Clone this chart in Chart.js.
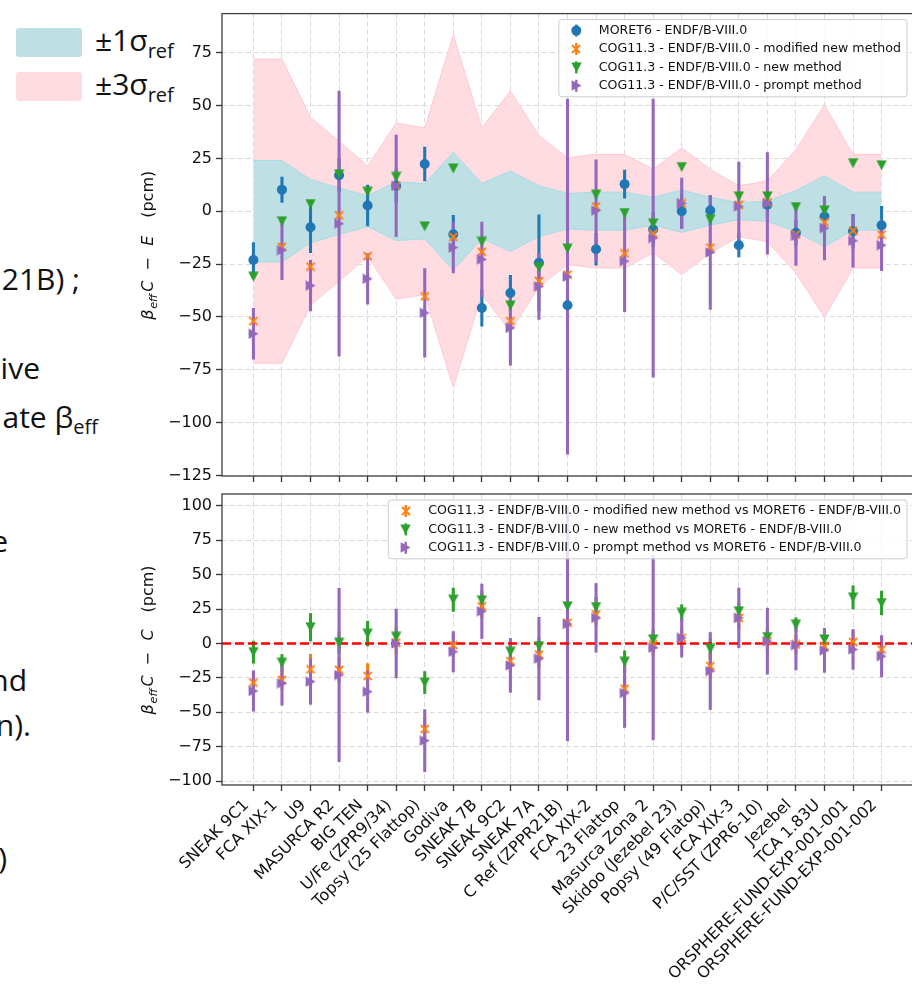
<!DOCTYPE html>
<html>
<head>
<meta charset="utf-8">
<script src="https://cdn.jsdelivr.net/npm/chart.js@4.4.1/dist/chart.umd.min.js"></script>
<style>
html,body{margin:0;padding:0;background:#fff;}
body{width:912px;height:990px;overflow:hidden;position:relative;font-family:"Open Sans","Noto Sans",sans-serif;color:#111;}
canvas{position:absolute;left:0;}
#c1{top:0;}
#c2{top:480px;}
.frag{position:absolute;white-space:nowrap;font-size:30px;line-height:30px;}
.frag sub{font-size:20px;vertical-align:-6px;line-height:0;}
.sw{position:absolute;left:16px;width:66px;height:29px;border-radius:3px;}
.lg{position:absolute;left:95px;white-space:nowrap;font-size:30px;line-height:30px;}
.lg sub{font-size:20px;vertical-align:-7px;line-height:0;}
</style>
</head>
<body>
<div class="sw" style="top:28px;background:#BEDFE3;"></div>
<div class="sw" style="top:72px;background:#FFDBE2;"></div>
<div class="lg" style="top:25px;">±1σ<sub>ref</sub></div>
<div class="lg" style="top:69px;">±3σ<sub>ref</sub></div>

<div class="frag" style="right:832px;top:264px;">21B) ;</div>
<div class="frag" style="right:872px;top:353px;">ive</div>
<div class="frag" style="right:814px;top:402px;">ate β<sub>eff</sub></div>
<div class="frag" style="right:904px;top:526px;">e</div>
<div class="frag" style="right:885px;top:665px;">nd</div>
<div class="frag" style="right:881px;top:710px;">n).</div>
<div class="frag" style="right:905px;top:843px;">)</div>

<canvas id="c1" width="920" height="490"></canvas>
<canvas id="c2" width="920" height="510"></canvas>

<script>
// ---------------- DATA ----------------
const categories = ['SNEAK 9C1','FCA XIX-1','U9','MASURCA R2','BIG TEN','U/Fe (ZPR9/34)','Topsy (25 Flattop)','Godiva','SNEAK 7B','SNEAK 9C2','SNEAK 7A','C Ref (ZPPR21B)','FCA XIX-2','23 Flattop','Masurca Zona 2','Skidoo (Jezebel 23)','Popsy (49 Flatop)','FCA XIX-3','P/C/SST (ZPR6-10)','Jezebel','TCA 1.83U','ORSPHERE-FUND-EXP-001-001','ORSPHERE-FUND-EXP-001-002'];

// reference experimental uncertainty bands (pcm)
const sigma1Ref = [24, 24, 15, 11, 7.3, 13.9, 13.1, 27.9, 13.1, 19, 12, 8.4, 9, 9, 6.6, 10, 6.6, 4, 4.8, 9.7, 16.8, 9, 9];
const sigma3Ref = [72, 72, 44.4, 33.1, 21.4, 41.7, 39.4, 83.6, 39.4, 57, 35.8, 25.3, 26.9, 26.9, 19.8, 30, 19.8, 12, 14.4, 29.2, 50.3, 26.9, 26.9];

// top panel: C - E (pcm)
const moretCE       = [-23.1, 10.2, -7.6, 17, 2.7, 12, 22.3, -10.9, -45.8, -38.7, -24.4, -44.5, -18, 12.8, -8.7, 0, 0.3, -16.1, 3.1, -10.2, -2.5, -9.5, -6.7];
const moretCEErr    = [8.3, 6, 12, 8, 9.7, 8, 8, 9, 8.6, 8.3, 22.7, 8, 7.5, 6.6, 8, 8, 6.7, 5.5, 6, 6, 9.4, 8, 9];
const cogModCE      = [-52, -16.9, -26.2, -2, -21.2, 12, -40.3, -12.2, -19.2, -52, -33, -30, 2.2, -20, -10.6, 3.7, -17.2, 3, 4.2, -11, -5.2, -9.2, -11.1];
const cogNewCE      = [-31, -4.8, 3.4, 17.5, 9.2, 16.2, -7.2, 20.2, -14.5, -44.7, -26.6, -17.7, 7.8, -0.9, -5.9, 20.9, -3.9, 7, 7, 1.9, 0.3, 22.7, 21.7];
const cogPromptCE   = [-58, -18.4, -35.2, -5.9, -32, 12, -48.1, -17.2, -22.8, -55.2, -35.6, -31, 0.3, -23.6, -12.7, 3.7, -19.5, 2.3, 3.7, -11.7, -8, -14, -16.1];
const cogPromptCEErr= [12, 14, 12, 62.7, 12, 24, 21, 12, 17.6, 17.6, 15.6, 84, 24, 24, 65.8, 12, 27, 21, 24, 14, 15, 12.5, 12];

// bottom panel: C - C (pcm), COG vs MORET6
const cogModCC      = [-28.4, -26.5, -18.8, -19.3, -23.6, 0.5, -62.2, -1.2, 27, -12.8, -8, 15, 21, -32.8, -0.7, 4.1, -16.4, 18.6, 1.7, -0.7, -1.9, 1, -4.3];
const cogModCCErr   = [8, 7, 11, 9, 9, 8, 9, 8, 9, 8, 10, 9, 8, 9, 8, 7, 9, 8, 8, 7, 8, 8, 8];
const cogNewCC      = [-6.3, -14, 11.8, 0.5, 7.2, 4.8, -28.4, 31.8, 31.3, -6, -1.9, 27, 26.5, -13.3, 2.9, 22.2, -3.9, 23.4, 4.6, 13.7, 2.9, 33.5, 29.4];
const cogNewCCErr   = [8, 6, 10, 8, 9, 7, 8, 8.5, 7, 7, 6, 8, 7, 8, 7, 6, 7, 6, 6, 5, 6, 8.4, 8.6];
const cogPromptCC   = [-34.5, -28.9, -27.7, -22.9, -35, 0, -70.6, -6, 23.4, -15.9, -11, 14.2, 18.6, -36, -3.1, 4.1, -20, 18.6, 1.7, -1.2, -5, -4.3, -9.2];
const cogPromptCCErr= [14.7, 16, 16.5, 63, 15, 25, 22.6, 14.7, 19.8, 19.6, 30, 85, 25, 25, 67, 14, 28, 21.7, 24, 18, 16, 14.5, 15];

const topSeriesNames = ['MORET6 - ENDF/B-VIII.0','COG11.3 - ENDF/B-VIII.0 - modified new method','COG11.3 - ENDF/B-VIII.0 - new method','COG11.3 - ENDF/B-VIII.0 - prompt method'];
const botSeriesNames = ['COG11.3 - ENDF/B-VIII.0 - modified new method vs MORET6 - ENDF/B-VIII.0','COG11.3 - ENDF/B-VIII.0 - new method vs MORET6 - ENDF/B-VIII.0','COG11.3 - ENDF/B-VIII.0 - prompt method vs MORET6 - ENDF/B-VIII.0'];

const topYTicks = [-125, -100, -75, -50, -25, 0, 25, 50, 75];
const botYTicks = [-100, -75, -50, -25, 0, 25, 50, 75, 100];
const refLineValue = 0;

// ---------------- STYLE ----------------
const X_MIN = -1.1, X_MAX = 23.1;
const TOP_Y = [-125.3, 93.5], BOT_Y = [-102.8, 108.6];
const BLUE = '#1f77b4', ORANGE = '#ff7f0e', GREEN = '#2ca02c', PURPLE = '#9467bd';
const PINK = '#FFDBE2', PINK_EDGE = '#FFCAD4', TEAL = '#BEDFE3', TEAL_EDGE = '#A6DCE4';
const FONT = '"DejaVu Sans"';

function mk(w, h, draw) { const c = document.createElement('canvas'); c.width = w; c.height = h; draw(c.getContext('2d')); return c; }
const triDown = mk(11, 11, g => { g.fillStyle = GREEN; g.beginPath(); g.moveTo(0.3, 0.6); g.lineTo(10.7, 0.6); g.lineTo(5.5, 10.6); g.closePath(); g.fill(); });
const triRight = mk(11, 11, g => { g.fillStyle = PURPLE; g.beginPath(); g.moveTo(0.6, 0.3); g.lineTo(10.6, 5.5); g.lineTo(0.6, 10.7); g.closePath(); g.fill(); });
const xMark = mk(10, 10, g => { g.strokeStyle = ORANGE; g.lineWidth = 1.8; g.beginPath(); g.moveTo(1, 1); g.lineTo(9, 9); g.moveTo(9, 1); g.lineTo(1, 9); g.stroke(); });

const pts = (vals, sign = 1) => vals.map((v, i) => ({ x: i, y: sign * v }));
const bars = (vals, errs) => vals.map((v, i) => ({ x: i, y: [v - errs[i], v + errs[i]] }));
const fmt = v => v < 0 ? '\u2212' + Math.abs(v) : String(v);

function markerDS(data, style, color, order) {
  const ds = { type: 'scatter', data, order, pointBorderWidth: 0, pointBackgroundColor: color, pointBorderColor: color };
  if (style === 'circle') { ds.pointStyle = 'circle'; ds.pointRadius = 5; }
  else { ds.pointStyle = style; ds.pointRadius = 6; }
  return ds;
}
function errDS(data, color, order) {
  return { type: 'bar', data, backgroundColor: color, borderWidth: 0, barThickness: 2.4, grouped: false, order };
}
function bandDS(vals, sign, fill, edge, order, doFill) {
  return { type: 'line', data: pts(vals, sign), borderColor: edge, borderWidth: 1, pointRadius: 0, tension: 0,
           fill: doFill ? '+1' : false, backgroundColor: fill, order };
}

function gridOpts() {
  return { offset: false, color: '#d9d9d9', lineWidth: 1, drawTicks: true, tickLength: 6, tickColor: '#333', tickWidth: 1.3, tickBorderDash: [] };
}
function xScale(showLabels, height) {
  return {
    type: 'linear', min: X_MIN, max: X_MAX, offset: false, beginAtZero: false,
    afterBuildTicks: ax => { ax.ticks = categories.map((_, i) => ({ value: i })); },
    afterFit: ax => { ax.height = height; },
    grid: gridOpts(),
    border: { display: false, dash: [5, 3] },
    ticks: { display: showLabels, autoSkip: false, maxRotation: 45, minRotation: 45, padding: 5, labelOffset: -7,
             color: '#111', font: { family: 'DejaVu Sans', size: 16 }, callback: v => categories[v] }
  };
}
function yScale(range, ticks) {
  return {
    type: 'linear', min: range[0], max: range[1], offset: false, beginAtZero: false,
    afterBuildTicks: ax => { ax.ticks = ticks.map(v => ({ value: v })); },
    afterFit: ax => { ax.width = 222; },
    grid: gridOpts(),
    border: { display: false, dash: [5, 3] },
    ticks: { padding: 4, color: '#111', font: { family: 'DejaVu Sans', size: 16 }, callback: v => fmt(v) }
  };
}

function roundRectPath(ctx, x, y, w, h, r) {
  ctx.beginPath(); ctx.moveTo(x + r, y); ctx.lineTo(x + w - r, y); ctx.arcTo(x + w, y, x + w, y + r, r);
  ctx.lineTo(x + w, y + h - r); ctx.arcTo(x + w, y + h, x + w - r, y + h, r); ctx.lineTo(x + r, y + h);
  ctx.arcTo(x, y + h, x, y + h - r, r); ctx.lineTo(x, y + r); ctx.arcTo(x, y, x + r, y, r); ctx.closePath();
}

function makePlugins(legendItems, secondLetter) {
  return [{
    id: 'frameTitleLegend',
    afterDatasetsDraw(chart) {
      const ctx = chart.ctx, a = chart.chartArea;
      ctx.save(); ctx.strokeStyle = '#3d3d3d'; ctx.lineWidth = 1.3;
      ctx.strokeRect(a.left, a.top, a.right - a.left, a.bottom - a.top); ctx.restore();
    },
    afterDraw(chart) {
      const ctx = chart.ctx, a = chart.chartArea;
      // y title
      const cy = (a.top + a.bottom) / 2;
      ctx.save(); ctx.translate(153, cy); ctx.rotate(-Math.PI / 2);
      ctx.fillStyle = '#111'; ctx.textBaseline = 'alphabetic'; ctx.textAlign = 'left';
      const it = 'italic 16px ' + FONT, up = '16px ' + FONT;
      const s = -75;
      [['β', it, 0, 0], ['eff', 'italic 11.2px ' + FONT, 11, 3.5], ['C', it, 28, 0], ['\u2212', up, 49, 0],
       [secondLetter, it, 74, 0], ['(pcm)', up, 102, 0]].forEach(([t, f, x, dy]) => { ctx.font = f; ctx.fillText(t, s + x, dy); });
      ctx.restore();
      // legend
      ctx.save();
      ctx.font = '12.6px ' + FONT;
      const tw = Math.max(...legendItems.map(o => ctx.measureText(o.label).width));
      const w = 5 + 25 + 10 + tw + 6, rowH = 18.4, h = 22 + (legendItems.length - 1) * rowH;
      const right = a.right - 6, left = right - w, top = a.top + 6;
      roundRectPath(ctx, left, top, w, h, 3);
      ctx.fillStyle = 'rgba(255,255,255,0.8)'; ctx.fill(); ctx.strokeStyle = '#cccccc'; ctx.lineWidth = 1; ctx.stroke();
      legendItems.forEach((o, i) => {
        const y = top + 11 + i * rowH, mx = left + 17.5;
        ctx.strokeStyle = o.color; ctx.lineWidth = 2.4; ctx.beginPath(); ctx.moveTo(mx, y - 6); ctx.lineTo(mx, y + 6); ctx.stroke();
        if (o.img) ctx.drawImage(o.img, Math.round(mx - o.img.width / 2), Math.round(y - o.img.height / 2));
        else { ctx.fillStyle = o.color; ctx.beginPath(); ctx.arc(mx, y, 5, 0, 2 * Math.PI); ctx.fill(); }
        ctx.fillStyle = '#111'; ctx.textBaseline = 'middle'; ctx.textAlign = 'left'; ctx.fillText(o.label, left + 40, y);
      });
      ctx.restore();
    }
  }];
}

Chart.defaults.font.family = 'DejaVu Sans';
const common = { responsive: false, animation: false, events: [], devicePixelRatio: 1,
  plugins: { legend: { display: false }, tooltip: { enabled: false } } };

// ---------------- TOP CHART ----------------
new Chart(document.getElementById('c1'), {
  type: 'scatter',
  data: { datasets: [
    bandDS(sigma3Ref, 1, PINK, PINK_EDGE, 100, true),
    bandDS(sigma3Ref, -1, PINK, PINK_EDGE, 99, false),
    bandDS(sigma1Ref, 1, TEAL, TEAL_EDGE, 90, true),
    bandDS(sigma1Ref, -1, TEAL, TEAL_EDGE, 89, false),
    errDS(bars(moretCE, moretCEErr), BLUE, 60),
    errDS(bars(cogPromptCE, cogPromptCEErr), PURPLE, 57),
    markerDS(pts(moretCE), 'circle', BLUE, 40),
    markerDS(pts(cogModCE), xMark, ORANGE, 39),
    markerDS(pts(cogNewCE), triDown, GREEN, 38),
    markerDS(pts(cogPromptCE), triRight, PURPLE, 37)
  ]},
  options: Object.assign({}, common, {
    layout: { padding: { left: 0, right: 7, top: 9, bottom: 0 } },
    scales: { x: xScale(false, 14), y: yScale(TOP_Y, topYTicks) }
  }),
  plugins: makePlugins([
    { label: topSeriesNames[0], color: BLUE },
    { label: topSeriesNames[1], color: ORANGE, img: xMark },
    { label: topSeriesNames[2], color: GREEN, img: triDown },
    { label: topSeriesNames[3], color: PURPLE, img: triRight }
  ], 'E')
});

// ---------------- BOTTOM CHART ----------------
new Chart(document.getElementById('c2'), {
  type: 'scatter',
  data: { datasets: [
    errDS(bars(cogModCC, cogModCCErr), ORANGE, 60),
    errDS(bars(cogNewCC, cogNewCCErr), GREEN, 59),
    errDS(bars(cogPromptCC, cogPromptCCErr), PURPLE, 58),
    { type: 'line', data: [{ x: X_MIN, y: refLineValue }, { x: X_MAX, y: refLineValue }], borderColor: '#ff0000',
      borderWidth: 2.4, borderDash: [9, 4], pointRadius: 0, fill: false, order: 45 },
    markerDS(pts(cogModCC), xMark, ORANGE, 39),
    markerDS(pts(cogNewCC), triDown, GREEN, 38),
    markerDS(pts(cogPromptCC), triRight, PURPLE, 37)
  ]},
  options: Object.assign({}, common, {
    layout: { padding: { left: 0, right: 7, top: 14, bottom: 0 } },
    scales: { x: xScale(true, 205), y: yScale(BOT_Y, botYTicks) }
  }),
  plugins: makePlugins([
    { label: botSeriesNames[0], color: ORANGE, img: xMark },
    { label: botSeriesNames[1], color: GREEN, img: triDown },
    { label: botSeriesNames[2], color: PURPLE, img: triRight }
  ], 'C')
});
</script>
</body>
</html>
